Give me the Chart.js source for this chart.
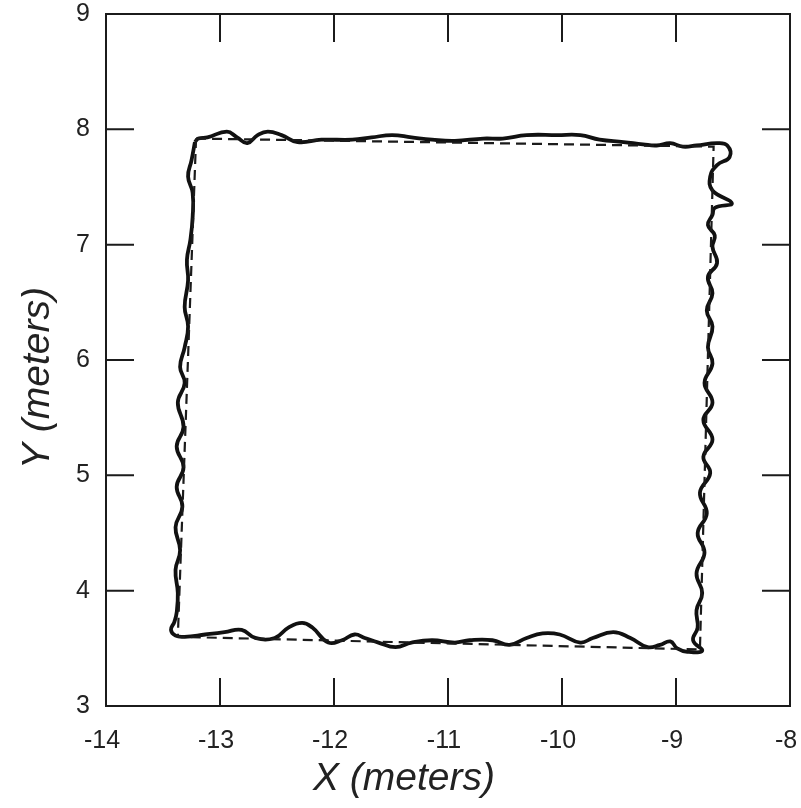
<!DOCTYPE html>
<html>
<head>
<meta charset="utf-8">
<title>Trajectory</title>
<script src="https://cdn.jsdelivr.net/npm/chart.js@4.4.1/dist/chart.umd.min.js"></script>
<style>
  html, body { margin: 0; padding: 0; background: #fff; }
  canvas { display: block; }
</style>
</head>
<body>
<canvas id="myChart" width="801" height="808"></canvas>
<script>
// axis ticks
const xTicks = [-14, -13, -12, -11, -10, -9, -8];
const yTicks = [3, 4, 5, 6, 7, 8, 9];

// commanded square (dashed)
const refX = [-13.21, -8.67, -8.79, -13.37, -13.21];
const refY = [7.92, 7.85, 3.49, 3.60, 7.92];

// measured path (solid), clockwise from the top-left corner
const pathX = [
  -13.22, -13.19, -13.11, -12.94, -12.85, -12.76, -12.67, -12.58, -12.46, -12.32,
  -12.11, -11.84, -11.67, -11.49, -11.32, -11.14, -10.94, -10.69, -10.52, -10.31,
  -10.04, -9.84, -9.67, -9.46, -9.29, -9.17, -9.05, -8.94, -8.82, -8.64,
  -8.55, -8.53, -8.64, -8.70, -8.68, -8.51, -8.66, -8.68, -8.72, -8.66,
  -8.68, -8.64, -8.72, -8.68, -8.73, -8.68, -8.72, -8.68, -8.75, -8.68,
  -8.76, -8.68, -8.76, -8.70, -8.79, -8.73, -8.81, -8.75, -8.82, -8.77,
  -8.82, -8.81, -8.85, -8.77,
  -8.90, -8.99, -9.05, -9.14, -9.25, -9.40, -9.55, -9.73, -9.84, -10.02,
  -10.17, -10.31, -10.46, -10.61, -10.81, -10.94, -11.14, -11.32, -11.46, -11.61,
  -11.73, -11.82, -11.93, -12.05, -12.19, -12.28, -12.40, -12.52, -12.69, -12.81,
  -12.96, -13.13, -13.31, -13.39, -13.43, -13.40,
  -13.38, -13.37, -13.39, -13.35, -13.39, -13.33, -13.38, -13.32, -13.38, -13.32,
  -13.37, -13.31, -13.35, -13.31, -13.28, -13.31, -13.28, -13.29, -13.26, -13.24,
  -13.24, -13.28, -13.25, -13.22
];
const pathY = [
  7.89, 7.92, 7.93, 7.98, 7.93, 7.88, 7.95, 7.98, 7.95, 7.89,
  7.91, 7.91, 7.93, 7.95, 7.93, 7.91, 7.90, 7.92, 7.92, 7.95,
  7.95, 7.95, 7.91, 7.89, 7.87, 7.86, 7.88, 7.85, 7.86, 7.88,
  7.86, 7.76, 7.69, 7.59, 7.47, 7.36, 7.32, 7.26, 7.17, 7.08,
  6.98, 6.84, 6.72, 6.58, 6.43, 6.29, 6.11, 5.97, 5.80, 5.63,
  5.48, 5.31, 5.16, 5.02, 4.85, 4.67, 4.50, 4.33, 4.15, 3.98,
  3.83, 3.68, 3.57, 3.48,
  3.47, 3.50, 3.56, 3.53, 3.51, 3.59, 3.64, 3.59, 3.55, 3.62,
  3.63, 3.59, 3.53, 3.57, 3.57, 3.55, 3.57, 3.55, 3.51, 3.55,
  3.59, 3.62, 3.57, 3.55, 3.68, 3.72, 3.68, 3.59, 3.59, 3.66,
  3.64, 3.62, 3.60, 3.61, 3.66, 3.73,
  3.81, 3.98, 4.18, 4.35, 4.55, 4.73, 4.90, 5.07, 5.25, 5.42,
  5.63, 5.80, 5.94, 6.11, 6.29, 6.46, 6.69, 6.87, 7.04, 7.24,
  7.45, 7.59, 7.73, 7.89
];

const toPoints = (xs, ys) => xs.map((x, i) => ({ x: x, y: ys[i] }));

const ink = '#1b1b1b';
const tickFont = { family: '"Liberation Sans", Arial, sans-serif', size: 25 };

// box around the plot with inward tick marks on all four sides
const frameTicks = {
  id: 'frameTicks',
  afterDatasetsDraw(chart) {
    const { ctx, chartArea: a, scales } = chart;
    const len = 28;
    ctx.save();
    ctx.strokeStyle = ink;
    ctx.lineWidth = 2;
    ctx.strokeRect(a.left, a.top, a.right - a.left, a.bottom - a.top);
    ctx.beginPath();
    xTicks.slice(1, -1).forEach(v => {
      const px = scales.x.getPixelForValue(v);
      ctx.moveTo(px, a.bottom); ctx.lineTo(px, a.bottom - len);
      ctx.moveTo(px, a.top); ctx.lineTo(px, a.top + len);
    });
    yTicks.slice(1, -1).forEach(v => {
      const py = scales.y.getPixelForValue(v);
      ctx.moveTo(a.left, py); ctx.lineTo(a.left + len, py);
      ctx.moveTo(a.right, py); ctx.lineTo(a.right - len, py);
    });
    ctx.stroke();

    // axis titles
    ctx.fillStyle = '#222';
    ctx.font = 'italic 39px "Liberation Sans", Arial, sans-serif';
    ctx.textAlign = 'center';
    ctx.textBaseline = 'alphabetic';
    ctx.fillText('X (meters)', 404, 790);
    ctx.save();
    ctx.translate(49, 378);
    ctx.rotate(-Math.PI / 2);
    ctx.fillText('Y (meters)', 0, 0);
    ctx.restore();
    ctx.restore();
  }
};

new Chart(document.getElementById('myChart'), {
  type: 'scatter',
  data: {
    datasets: [
      {
        data: toPoints(refX, refY),
        showLine: true,
        borderColor: ink,
        borderWidth: 2.2,
        borderDash: [10, 6],
        pointRadius: 0,
        tension: 0
      },
      {
        data: toPoints(pathX, pathY),
        showLine: true,
        borderColor: '#111',
        borderWidth: 3.8,
        pointRadius: 0,
        tension: 0.45
      }
    ]
  },
  options: {
    responsive: false,
    animation: false,
    devicePixelRatio: 1,
    layout: { padding: { top: 14, right: 11, bottom: 0, left: 0 } },
    plugins: { legend: { display: false }, tooltip: { enabled: false } },
    scales: {
      x: {
        type: 'linear',
        min: -14,
        max: -8,
        afterBuildTicks: s => { s.ticks = xTicks.map(v => ({ value: v })); },
        afterFit: s => { s.height = 102; s.paddingLeft = 0; s.paddingRight = 0; },
        grid: { display: false, drawTicks: false },
        border: { display: false },
        ticks: { font: tickFont, color: '#222', padding: 20, maxRotation: 0, labelOffset: -4 }
      },
      y: {
        type: 'linear',
        min: 3,
        max: 9,
        afterBuildTicks: s => { s.ticks = yTicks.map(v => ({ value: v })); },
        afterFit: s => { s.width = 106; s.paddingTop = 0; s.paddingBottom = 0; },
        grid: { display: false, drawTicks: false },
        border: { display: false },
        ticks: { font: tickFont, color: '#222', padding: 16 }
      }
    }
  },
  plugins: [frameTicks]
});
</script>
</body>
</html>
